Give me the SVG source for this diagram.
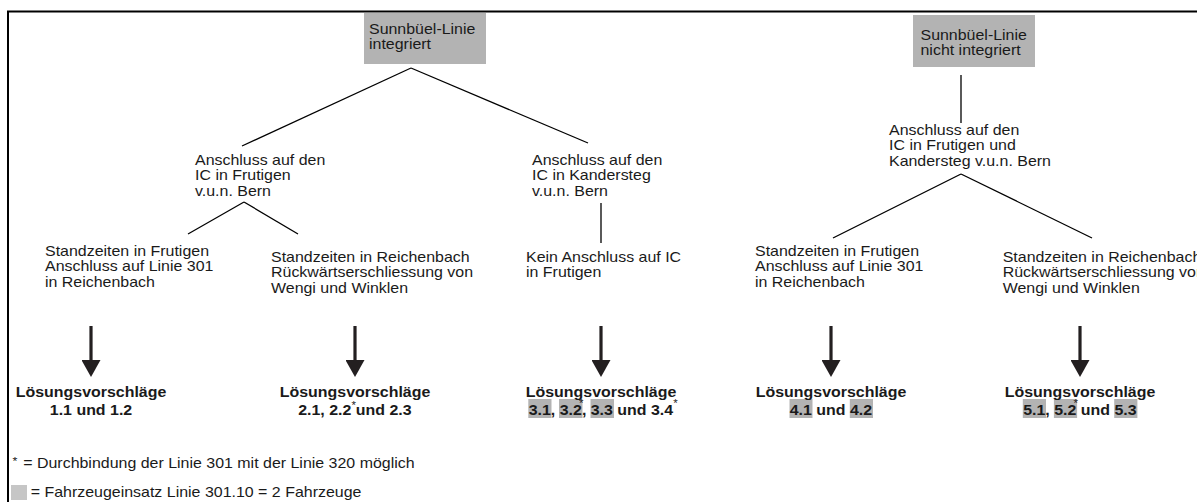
<svg xmlns="http://www.w3.org/2000/svg" width="1197" height="502" viewBox="0 0 1197 502">
<style>
text{font-family:"Liberation Sans",Arial,sans-serif;fill:#1a1a1a}
.r{font-size:14px}
.b{font-size:14px;font-weight:bold}
.s{font-size:10px;font-weight:normal}
.box{fill:#b3b3b3}
.hl{fill:#b3b3b3}
.ln{stroke:#000;stroke-width:1.3;fill:none}
.ar{stroke:#231f20;stroke-width:3.2;fill:none}
</style>
<defs>
<marker id="ah" markerUnits="userSpaceOnUse" viewBox="0 -9.5 17 19" refX="0" refY="0" markerWidth="17" markerHeight="19" orient="auto">
<path d="M0,-9.5 L17,0 L0,9.5 Z" fill="#231f20"/>
</marker>
</defs>
<rect width="1197" height="502" fill="#fff"/>
<path d="M8,502 V11.5 H1197" stroke="#000" stroke-width="2" fill="none"/>

<g id="connectors">
<path class="ln" d="M411,68 L242,146"/>
<path class="ln" d="M411,68 L588,143"/>
<path class="ln" d="M244,202 L188,234"/>
<path class="ln" d="M244,202 L298,234"/>
<path class="ln" d="M601,203 L601,243"/>
<path class="ln" d="M961,75 L961,123"/>
<path class="ln" d="M961,174 L833,238"/>
<path class="ln" d="M961,174 L1092,238"/>
<path class="ar" d="M91,326 V360" marker-end="url(#ah)"/>
<path class="ar" d="M355,326 V360" marker-end="url(#ah)"/>
<path class="ar" d="M601,326 V360" marker-end="url(#ah)"/>
<path class="ar" d="M831,326 V360" marker-end="url(#ah)"/>
<path class="ar" d="M1080,326 V360" marker-end="url(#ah)"/>
</g>

<g id="n-integriert">
<rect class="box" x="364" y="13" width="122" height="51"/>
<text class="r" transform="matrix(1.14 0 0 1 369 0)"><tspan x="0" y="34">Sunnbüel-Linie</tspan><tspan x="0" y="49.5">integriert</tspan></text>
</g>

<g id="n-nicht-integriert">
<rect class="box" x="913" y="15" width="122" height="52"/>
<text class="r" transform="matrix(1.14 0 0 1 920.5 0)"><tspan x="0" y="40">Sunnbüel-Linie</tspan><tspan x="0" y="55.5">nicht integriert</tspan></text>
</g>

<g id="n-ic-frutigen">
<text class="r" transform="matrix(1.14 0 0 1 195 0)"><tspan x="0" y="165">Anschluss auf den</tspan><tspan x="0" y="180.5">IC in Frutigen</tspan><tspan x="0" y="196">v.u.n. Bern</tspan></text>
</g>

<g id="n-ic-kandersteg">
<text class="r" transform="matrix(1.14 0 0 1 532 0)"><tspan x="0" y="165">Anschluss auf den</tspan><tspan x="0" y="180.5">IC in Kandersteg</tspan><tspan x="0" y="196">v.u.n. Bern</tspan></text>
</g>

<g id="n-ic-beide">
<text class="r" transform="matrix(1.14 0 0 1 889 0)"><tspan x="0" y="135">Anschluss auf den</tspan><tspan x="0" y="150.5">IC in Frutigen und</tspan><tspan x="0" y="166">Kandersteg v.u.n. Bern</tspan></text>
</g>

<g id="n-standzeiten-frutigen-1">
<text class="r" transform="matrix(1.14 0 0 1 45 0)"><tspan x="0" y="256">Standzeiten in Frutigen</tspan><tspan x="0" y="271.5">Anschluss auf Linie 301</tspan><tspan x="0" y="287">in Reichenbach</tspan></text>
</g>

<g id="n-standzeiten-reichenbach-1">
<text class="r" transform="matrix(1.14 0 0 1 271 0)"><tspan x="0" y="262">Standzeiten in Reichenbach</tspan><tspan x="0" y="277.5">Rückwärtserschliessung von</tspan><tspan x="0" y="293">Wengi und Winklen</tspan></text>
</g>

<g id="n-kein-anschluss">
<text class="r" transform="matrix(1.14 0 0 1 526 0)"><tspan x="0" y="262">Kein Anschluss auf IC</tspan><tspan x="0" y="277.5">in Frutigen</tspan></text>
</g>

<g id="n-standzeiten-frutigen-2">
<text class="r" transform="matrix(1.14 0 0 1 755 0)"><tspan x="0" y="256">Standzeiten in Frutigen</tspan><tspan x="0" y="271.5">Anschluss auf Linie 301</tspan><tspan x="0" y="287">in Reichenbach</tspan></text>
</g>

<g id="n-standzeiten-reichenbach-2">
<text class="r" transform="matrix(1.14 0 0 1 1002.7 0)"><tspan x="0" y="262">Standzeiten in Reichenbach</tspan><tspan x="0" y="277.5">Rückwärtserschliessung von</tspan><tspan x="0" y="293">Wengi und Winklen</tspan></text>
</g>

<g id="n-loesung-1">
<text class="b" text-anchor="middle" transform="matrix(1.14 0 0 1 91 0)"><tspan x="0" y="397">Lösungsvorschläge</tspan><tspan x="0" y="415">1.1 und 1.2</tspan></text>
</g>

<g id="n-loesung-2">
<text class="b" text-anchor="middle" transform="matrix(1.14 0 0 1 355 0)"><tspan x="0" y="397">Lösungsvorschläge</tspan></text>
<text class="b" transform="matrix(1.14 0 0 1 298.2 0)"><tspan x="0" y="415">2.1, 2.2</tspan><tspan class="s" dy="-6">*</tspan><tspan dy="6">und 2.3</tspan></text>
</g>

<g id="n-loesung-3">
<rect class="hl" x="528.3" y="399" width="23.2" height="19"/>
<rect class="hl" x="559" y="399" width="23.5" height="19"/>
<rect class="hl" x="590.5" y="399" width="23.5" height="19"/>
<text class="b" text-anchor="middle" transform="matrix(1.14 0 0 1 601 0)"><tspan x="0" y="397">Lösungsvorschläge</tspan></text>
<text class="b" transform="matrix(1.14 0 0 1 528.7 0)"><tspan x="0" y="415">3.1, 3.2</tspan><tspan class="s" dx="-2.5" dy="-8">*</tspan><tspan dx="-1.4" dy="8">, 3.3 und 3.4</tspan><tspan class="s" dy="-8">*</tspan></text>
</g>

<g id="n-loesung-4">
<rect class="hl" x="789.5" y="399" width="23" height="19"/>
<rect class="hl" x="849.8" y="399" width="23.2" height="19"/>
<text class="b" text-anchor="middle" transform="matrix(1.14 0 0 1 831 0)"><tspan x="0" y="397">Lösungsvorschläge</tspan></text>
<text class="b" transform="matrix(1.14 0 0 1 789.75 0)"><tspan x="0" y="415">4.1 und 4.2</tspan></text>
</g>

<g id="n-loesung-5">
<rect class="hl" x="1022.8" y="399" width="23.2" height="19"/>
<rect class="hl" x="1053.9" y="399" width="23.2" height="19"/>
<rect class="hl" x="1114.2" y="399" width="23.2" height="19"/>
<text class="b" text-anchor="middle" transform="matrix(1.14 0 0 1 1080 0)"><tspan x="0" y="397">Lösungsvorschläge</tspan></text>
<text class="b" transform="matrix(1.14 0 0 1 1023.2 0)"><tspan x="0" y="415">5.1, 5.2</tspan><tspan class="s" dx="-2.5" dy="-8">*</tspan><tspan dx="-1.4" dy="8"> und 5.3</tspan></text>
</g>

<g id="legend">
<text class="r" transform="matrix(1.14 0 0 1 12.5 0)"><tspan class="s" y="465" style="font-size:11px">*</tspan><tspan x="9.4" y="468">= Durchbindung der Linie 301 mit der Linie 320 möglich</tspan></text>
<rect x="11" y="485" width="16" height="15" fill="#c6c6c6"/>
<text class="r" transform="matrix(1.14 0 0 1 30.7 0)"><tspan x="0" y="497">= Fahrzeugeinsatz Linie 301.10 = 2 Fahrzeuge</tspan></text>
</g>
</svg>
